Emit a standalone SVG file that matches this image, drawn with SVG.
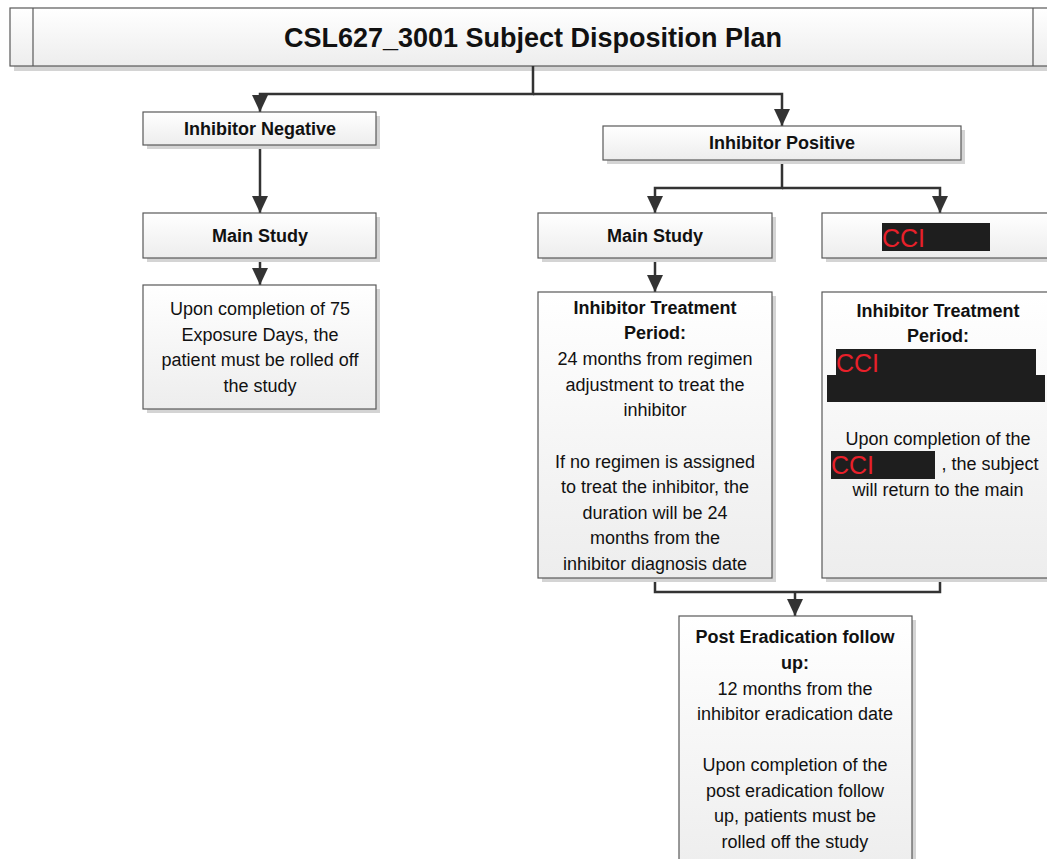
<svg xmlns="http://www.w3.org/2000/svg" width="1047" height="859" viewBox="0 0 1047 859">
<style>
.box{fill:url(#g);stroke:#595959;stroke-width:1.2}
.sh{fill:#d4d4d4}
.t{font-family:"Liberation Sans",Arial,sans-serif;font-size:18px;fill:#111;text-anchor:middle}
.b{font-weight:bold;font-size:18px}
.c{fill:none;stroke:#333;stroke-width:2.5}
.red{fill:#1e1e1e}
.cci{font-family:"Liberation Sans",Arial,sans-serif;font-size:25px;fill:#e8202a}
</style>
<defs>
<linearGradient id="g" x1="0" y1="0" x2="0" y2="1">
<stop offset="0" stop-color="#ffffff"/>
<stop offset="1" stop-color="#ededed"/>
</linearGradient>
<marker id="a" markerUnits="userSpaceOnUse" markerWidth="18" markerHeight="16" refX="17" refY="8" orient="auto" viewBox="0 0 18 16">
<path d="M0,0 L17,8 L0,16 Z" fill="#333"/>
</marker>
</defs>

<g id="title">
<rect class="sh" x="14" y="12" width="1040" height="59"/>
<rect class="box" x="10" y="8" width="1040" height="58"/>
<line x1="33" y1="8" x2="33" y2="66" stroke="#595959" stroke-width="1.2"/>
<line x1="1033" y1="8" x2="1033" y2="66" stroke="#595959" stroke-width="1.2"/>
<text class="t b" x="533" y="47" style="font-size:27px">CSL627_3001 Subject Disposition Plan</text>
</g>

<g id="connectors">
<path class="c" d="M533,66 V94 H260 V112" marker-end="url(#a)"/>
<path class="c" d="M533,94 H782 V126" marker-end="url(#a)"/>
<path class="c" d="M260,145 V213" marker-end="url(#a)"/>
<path class="c" d="M260,258 V285" marker-end="url(#a)"/>
<path class="c" d="M782,160 V188 H655 V213" marker-end="url(#a)"/>
<path class="c" d="M782,188 H940 V213" marker-end="url(#a)"/>
<path class="c" d="M655,258 V292" marker-end="url(#a)"/>
<path class="c" d="M655,578 V592 H940 V578"/>
<path class="c" d="M795,592 V616" marker-end="url(#a)"/>
</g>

<g id="inhibitor-negative">
<rect class="sh" x="147" y="116" width="233" height="33"/>
<rect class="box" x="143" y="112" width="233" height="33"/>
<text class="t b" x="260" y="135">Inhibitor Negative</text>
</g>

<g id="main-study-left">
<rect class="sh" x="147" y="217" width="233" height="45"/>
<rect class="box" x="143" y="213" width="233" height="45"/>
<text class="t b" x="260" y="242">Main Study</text>
</g>

<g id="rolled-off">
<rect class="sh" x="147" y="289" width="233" height="124"/>
<rect class="box" x="143" y="285" width="233" height="124"/>
<text class="t" x="260" y="315">Upon completion of 75</text>
<text class="t" x="260" y="341">Exposure Days, the</text>
<text class="t" x="260" y="366">patient must be rolled off</text>
<text class="t" x="260" y="392">the study</text>
</g>

<g id="inhibitor-positive">
<rect class="sh" x="607" y="130" width="358" height="34"/>
<rect class="box" x="603" y="126" width="358" height="34"/>
<text class="t b" x="782" y="149">Inhibitor Positive</text>
</g>

<g id="main-study-right">
<rect class="sh" x="542" y="217" width="234" height="45"/>
<rect class="box" x="538" y="213" width="234" height="45"/>
<text class="t b" x="655" y="242">Main Study</text>
</g>

<g id="cci-box">
<rect class="sh" x="826" y="217" width="240" height="45"/>
<rect class="box" x="822" y="213" width="240" height="45"/>
<rect class="red" x="882" y="223" width="108" height="28"/>
<text class="cci" x="882" y="247">CCI</text>
</g>

<g id="treatment-left">
<rect class="sh" x="542" y="296" width="234" height="286"/>
<rect class="box" x="538" y="292" width="234" height="286"/>
<text class="t b" x="655" y="314">Inhibitor Treatment</text>
<text class="t b" x="655" y="339">Period:</text>
<text class="t" x="655" y="365">24 months from regimen</text>
<text class="t" x="655" y="391">adjustment to treat the</text>
<text class="t" x="655" y="416">inhibitor</text>
<text class="t" x="655" y="468">If no regimen is assigned</text>
<text class="t" x="655" y="493">to treat the inhibitor, the</text>
<text class="t" x="655" y="519">duration will be 24</text>
<text class="t" x="655" y="544">months from the</text>
<text class="t" x="655" y="570">inhibitor diagnosis date</text>
</g>

<g id="treatment-right">
<rect class="sh" x="826" y="296" width="240" height="286"/>
<rect class="box" x="822" y="292" width="240" height="286"/>
<text class="t b" x="938" y="317">Inhibitor Treatment</text>
<text class="t b" x="938" y="342">Period:</text>
<rect class="red" x="836" y="349" width="200" height="27"/>
<rect class="red" x="827" y="375" width="218" height="27"/>
<text class="cci" x="836" y="372">CCI</text>
<text class="t" x="938" y="445">Upon completion of the</text>
<rect class="red" x="831" y="451" width="104" height="28"/>
<text class="cci" x="831" y="474">CCI</text>
<text class="t" x="990" y="470">, the subject</text>
<text class="t" x="938" y="496">will return to the main</text>
</g>

<g id="post-eradication">
<rect class="sh" x="683" y="620" width="233" height="260"/>
<rect class="box" x="679" y="616" width="233" height="260"/>
<text class="t b" x="795" y="643">Post Eradication follow</text>
<text class="t b" x="795" y="669">up:</text>
<text class="t" x="795" y="695">12 months from the</text>
<text class="t" x="795" y="720">inhibitor eradication date</text>
<text class="t" x="795" y="771">Upon completion of the</text>
<text class="t" x="795" y="797">post eradication follow</text>
<text class="t" x="795" y="822">up, patients must be</text>
<text class="t" x="795" y="848">rolled off the study</text>
</g>
</svg>
